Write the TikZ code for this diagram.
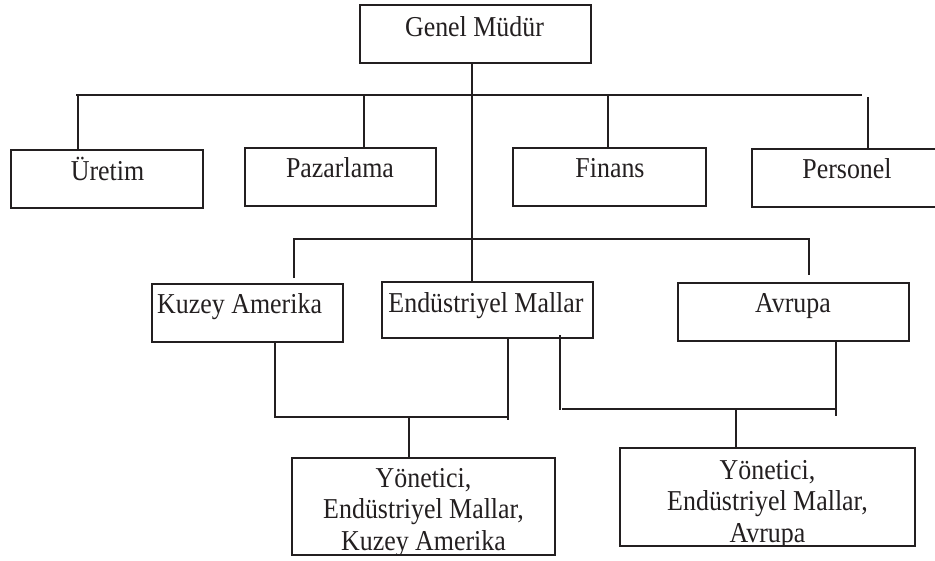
\documentclass[tikz,border=0pt]{standalone}
\usepackage{fontspec}
\setmainfont{Liberation Serif}[FakeStretch=0.9]
\definecolor{ink}{HTML}{231F20}
\begin{document}
\begin{tikzpicture}[x=1pt,y=-1pt,
  box/.style={draw=ink, line width=2.4pt, inner sep=0pt, outer sep=0pt, rectangle},
  conn/.style={draw=ink, line width=2.4pt},
  txt/.style={text=ink, inner sep=0pt, font=\fontsize{28.8}{31.5}\selectfont},
]
\useasboundingbox (0,0) rectangle (935,560);

% boxes
\node[box, minimum width=231pt, minimum height=58pt] (genel) at (475.5,34) {};
\node[box, minimum width=192pt, minimum height=58pt] (uretim) at (107,179) {};
\node[box, minimum width=191pt, minimum height=58pt] (pazar) at (340.5,177) {};
\node[box, minimum width=193pt, minimum height=58pt] (finans) at (609.5,177) {};
\node[box, minimum width=190pt, minimum height=58pt] (personel) at (847,178) {};
\node[box, minimum width=191pt, minimum height=58pt] (kuzey) at (247.5,313) {};
\node[box, minimum width=211pt, minimum height=56pt] (endm) at (487.5,310) {};
\node[box, minimum width=231pt, minimum height=58pt] (avrupa) at (793.5,312) {};

% texts
\node[txt, anchor=base] (genel-t) at (474.5,36) {Genel Müdür};
\node[txt, anchor=base] (uretim-t) at (107.5,180) {Üretim};
\node[txt, anchor=base] (pazar-t) at (340,177) {Pazarlama};
\node[txt, anchor=base] (finans-t) at (610,177) {Finans};
\node[txt, anchor=base] (personel-t) at (847,178) {Personel};
\node[txt, anchor=base west] (kuzey-t) at (157,313) {Kuzey Amerika};
\node[txt, anchor=base] (endm-t) at (486,312) {Endüstriyel Mallar};
\node[txt, anchor=base] (avrupa-t) at (793,312) {Avrupa};

% manager boxes (text clipped by the frame, as in the original)
\path (423.5,506.5) coordinate (y1c) (767.5,497) coordinate (y2c);
\path (292,458) coordinate (y1nw) (555,555) coordinate (y1se);
\path (620,448) coordinate (y2nw) (915,546) coordinate (y2se);
\begin{scope}
  \clip (y1nw) rectangle (y1se);
  \node[txt, anchor=base, align=center] (y1-t) at (423.5,550) {Yönetici,\\Endüstriyel Mallar,\\Kuzey Amerika};
\end{scope}
\begin{scope}
  \clip (y2nw) rectangle (y2se);
  \node[txt, anchor=base, align=center] (y2-t) at (767.5,542) {Yönetici,\\Endüstriyel Mallar,\\Avrupa};
\end{scope}
\node[box, minimum width=263pt, minimum height=97pt] (y1) at (y1c) {};
\node[box, minimum width=295pt, minimum height=98pt] (y2) at (y2c) {};

% top level connectors
\coordinate (hL) at (76,95);
\coordinate (hR) at (862,95);
\coordinate (gm) at (472,95);
\draw[conn] (hL) -- (hR);
\draw[conn] (genel.south -| gm) -- (endm.north -| gm);
\coordinate (u1) at (78,95);
\draw[conn] (u1) -- (u1 |- uretim.north);
\coordinate (p1) at (364,95);
\draw[conn] (p1) -- (p1 |- pazar.north);
\coordinate (f1) at (608,95);
\draw[conn] (f1) -- (f1 |- finans.north);
\coordinate (pe1) at (868,97);
\draw[conn] (pe1) -- (pe1 |- personel.north);

% second level
\coordinate (kTop) at (294,278);
\coordinate (sL) at (294,239);
\coordinate (sR) at (809,239);
\coordinate (aTop) at (809,275);
\draw[conn] (kTop) -- (sL) -- (sR) -- (aTop);

% left group
\coordinate (kb) at (275,417);
\coordinate (eb) at (508,417);
\coordinate (eb2) at (508,420);
\draw[conn] (kuzey.south -| kb) -- (kb) -- (eb);
\draw[conn] (endm.south -| eb) -- (eb2);
\coordinate (m1) at (409,417);
\draw[conn] (m1) -- (m1 |- y1.north);

% right group
\coordinate (ra) at (560,335);
\coordinate (rb) at (560,410);
\coordinate (rh) at (562,409);
\coordinate (rc) at (836,409);
\coordinate (rc2) at (836,416);
\draw[conn] (ra) -- (rb);
\draw[conn] (rh) -- (rc);
\draw[conn] (avrupa.south -| rc) -- (rc2);
\coordinate (m2) at (736,409);
\draw[conn] (m2) -- (m2 |- y2.north);
\end{tikzpicture}
\end{document}
